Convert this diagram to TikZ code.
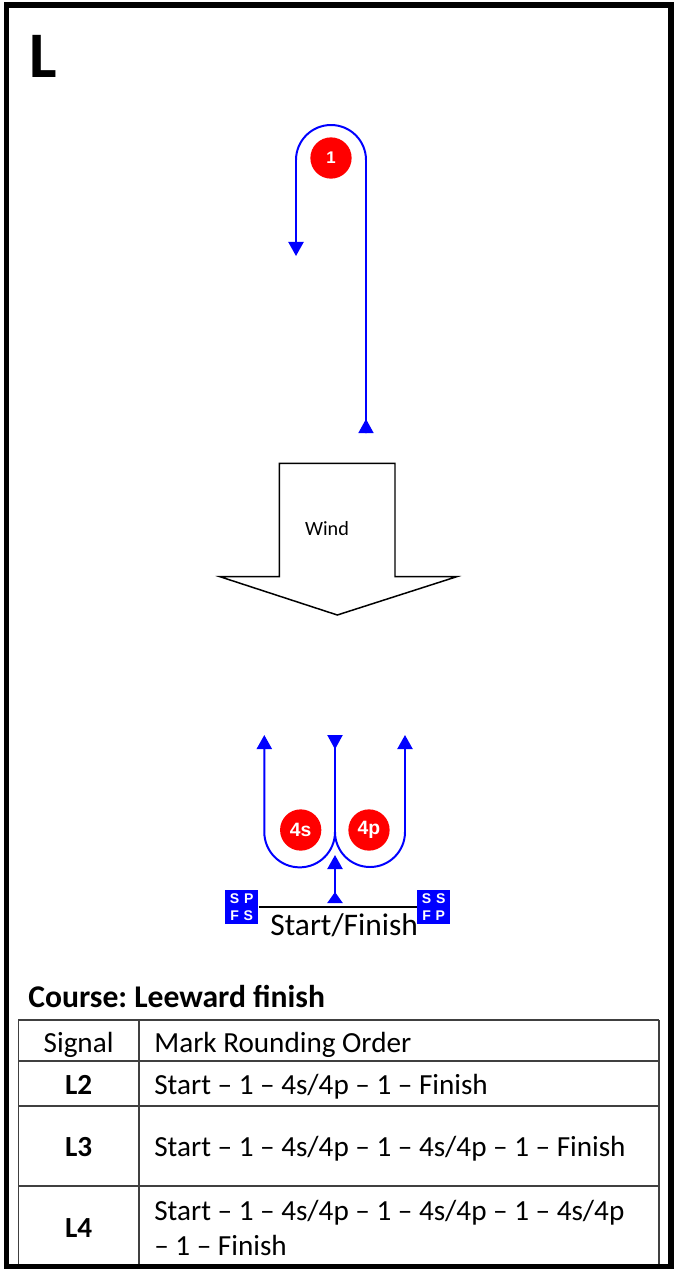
\documentclass[tikz,border=0pt]{standalone}
\usepackage{fontspec}
\setmainfont{Carlito}
\newfontfamily\markfont{Liberation Sans}
\usetikzlibrary{arrows.meta}
\frenchspacing

\begin{document}
\begin{tikzpicture}[x=0.02cm, y=-0.02cm,
  course/.style={blue, line width=1.13pt},
  wayarrow/.style={-{Triangle[length=8pt, width=8.6pt]}},
  rmark/.style={circle, fill=red, inner sep=0pt, minimum size=23.5pt, text=white},
  sigflag/.style={fill=blue, text=white, inner sep=0pt, minimum width=18.9pt, minimum height=19.3pt, align=center, font=\markfont\bfseries\fontsize{8}{9.9}\selectfont},
  tline/.style={black!75, line width=0.6pt},
  rowtext/.style={anchor=base west, inner sep=0pt, font=\fontsize{16.6}{19.8}\selectfont},
  rowsig/.style={anchor=base, inner sep=0pt, font=\fontsize{16.6}{19.8}\selectfont}]
\useasboundingbox (0,0) rectangle (677,1269);
\node[anchor=base west, inner sep=0pt, font=\fontsize{37}{37}\selectfont\bfseries] (title) at (29,77.5) {L};
\node[rmark, font=\markfont\bfseries\fontsize{9.6}{10}\selectfont] (m1) at (331,158) {1};
\draw[course, wayarrow] (366,433) -- (366,160) arc (0:-180:35) -- (296,256);
\fill[blue] (366,419) -- (373.7,433) -- (358.3,433) -- cycle;
\draw[line width=0.85pt] (279.3,463.3) -- (395,463.3) -- (395,576.7) -- (456.7,576.7) -- (337.3,615) -- (220,576.7) -- (279.3,576.7) -- cycle;
\node[font=\fontsize{11.5}{12}\selectfont] (wind) at (327,529) {Wind};
\node[rmark, font=\markfont\bfseries\fontsize{11}{12}\selectfont] (m4s) at (300.7,830) {4s};
\node[rmark, font=\markfont\bfseries\fontsize{11}{12}\selectfont] (m4p) at (369,830) {4p};
\draw[course, wayarrow] (335,735) -- (335,832) arc (0:180:35.35) -- (264.3,735);
\draw[course, wayarrow] (335,832) arc (180:0:35) -- (405,735);
\fill[blue] (335,749.3) -- (342.8,735) -- (327.2,735) -- cycle;
\draw[course, wayarrow] (335,903) -- (335,855);
\fill[blue] (335,892) -- (342.8,903) -- (327.2,903) -- cycle;
\node[sigflag] (pin) at (241.7,907) {S\hspace{2.7pt}P\\F\hspace{2.7pt}S};
\node[sigflag] (boat) at (433.7,907) {S\hspace{2.7pt}S\\F\hspace{2.7pt}P};
\draw[line width=1.1pt] (pin) -- (boat);
\node[anchor=base west, inner sep=0pt, font=\fontsize{17.9}{20}\selectfont] (sf) at (270,935) {Start/Finish};
\node[anchor=base west, inner sep=0pt, font=\fontsize{18}{20}\selectfont\bfseries] (course) at (28,1007) {Course: Leeward finish};
\draw[tline] (18.3,1020) -- (659,1020) (18.3,1061) -- (659,1061) (18.3,1106) -- (659,1106) (18.3,1186) -- (659,1186);
\draw[tline] (18.3,1020) -- (18.3,1266) (139,1020) -- (139,1266) (659,1020) -- (659,1266);
\node[rowsig] (h1) at (78.6,1052) {Signal};
\node[rowtext] (h2) at (154,1052) {Mark Rounding Order};
\node[rowsig, font=\fontsize{16.6}{19.8}\selectfont\bfseries] (s2) at (78.6,1094) {L2};
\node[rowtext] (r2) at (154,1094) {Start – 1 – 4s/4p – 1 – Finish};
\node[rowsig, font=\fontsize{16.6}{19.8}\selectfont\bfseries] (s3) at (78.6,1156) {L3};
\node[rowtext] (r3) at (154,1156) {Start – 1 – 4s/4p – 1 – 4s/4p – 1 – Finish};
\node[rowsig, font=\fontsize{16.6}{19.8}\selectfont\bfseries] (s4) at (78.6,1237) {L4};
\node[rowtext] (r4) at (154,1220) {Start – 1 – 4s/4p – 1 – 4s/4p – 1 – 4s/4p};
\node[rowtext] (r4b) at (154,1255) {– 1 – Finish};
\draw[line width=3.2pt] (6.5,5) rectangle (671,1266.5);
\end{tikzpicture}
\end{document}
